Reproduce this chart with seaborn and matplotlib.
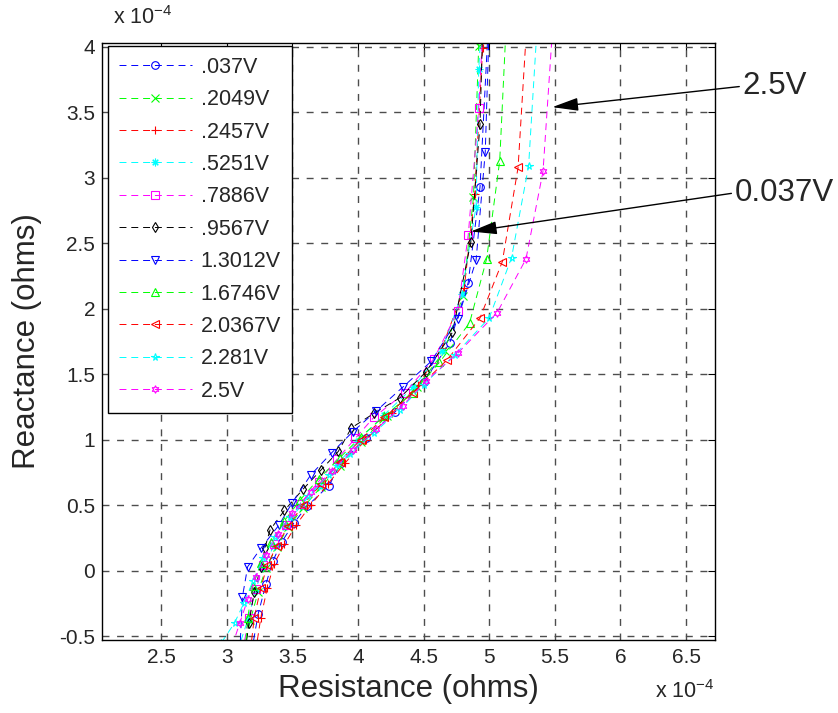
import matplotlib
matplotlib.use("Agg")
import matplotlib.pyplot as plt
import seaborn as sns
import pandas as pd

# impedance locus per bias voltage, both axes in units of 1e-4 ohm
labels = [".037V", ".2049V", ".2457V", ".5251V", ".7886V", ".9567V",
          "1.3012V", "1.6746V", "2.0367V", "2.281V", "2.5V"]

res_037 = [3.19, 3.24, 3.30, 3.35, 3.42, 3.51, 3.61, 3.78, 3.87, 4.06, 4.28, 4.50, 4.70, 4.84, 4.93, 5.00]
rea_037 = [-0.62, -0.33, -0.10, 0.07, 0.22, 0.36, 0.49, 0.65, 0.82, 1.01, 1.21, 1.44, 1.74, 2.20, 2.93, 4.30]

res_2049 = [3.13, 3.18, 3.24, 3.30, 3.38, 3.47, 3.58, 3.72, 3.86, 4.02, 4.22, 4.45, 4.66, 4.80, 4.88, 4.92, 4.95]
rea_2049 = [-0.62, -0.38, -0.16, 0.02, 0.18, 0.33, 0.48, 0.64, 0.80, 0.98, 1.18, 1.40, 1.68, 2.10, 2.85, 4.01, 4.50]

res_2457 = [3.22, 3.26, 3.31, 3.36, 3.44, 3.53, 3.64, 3.77, 3.90, 4.06, 4.26, 4.46, 4.64, 4.81, 4.89, 4.95, 4.98]
rea_2457 = [-0.62, -0.36, -0.13, 0.05, 0.20, 0.35, 0.50, 0.66, 0.82, 1.00, 1.20, 1.42, 1.70, 2.16, 2.88, 3.99, 4.50]

res_5251 = [3.08, 3.16, 3.22, 3.28, 3.36, 3.45, 3.56, 3.70, 3.84, 4.00, 4.20, 4.42, 4.64, 4.79, 4.90, 4.92, 4.96]
rea_5251 = [-0.62, -0.38, -0.15, 0.03, 0.19, 0.34, 0.49, 0.65, 0.81, 0.99, 1.19, 1.40, 1.68, 2.11, 2.78, 3.83, 4.50]

res_7886 = [3.12, 3.17, 3.22, 3.28, 3.36, 3.45, 3.56, 3.70, 3.84, 3.98, 4.12, 4.36, 4.58, 4.76, 4.84, 4.92, 4.97]
rea_7886 = [-0.62, -0.36, -0.14, 0.04, 0.20, 0.35, 0.51, 0.68, 0.85, 1.01, 1.17, 1.36, 1.62, 1.98, 2.56, 3.53, 4.50]

res_9567 = [3.14, 3.17, 3.21, 3.26, 3.29, 3.33, 3.44, 3.58, 3.72, 3.85, 3.95, 4.12, 4.32, 4.52, 4.72, 4.86, 4.93, 4.96]
rea_9567 = [-0.62, -0.40, -0.16, 0.03, 0.17, 0.31, 0.46, 0.62, 0.77, 0.91, 1.09, 1.20, 1.32, 1.52, 1.82, 2.51, 3.41, 4.50]

res_13012 = [3.10, 3.12, 3.16, 3.26, 3.40, 3.50, 3.64, 3.80, 3.96, 4.14, 4.34, 4.56, 4.76, 4.90, 4.97, 5.01]
rea_13012 = [-0.62, -0.20, 0.03, 0.17, 0.35, 0.52, 0.73, 0.90, 1.06, 1.22, 1.40, 1.60, 1.92, 2.37, 3.20, 4.50]

res_16746 = [3.14, 3.16, 3.20, 3.26, 3.34, 3.44, 3.56, 3.70, 3.86, 4.02, 4.20, 4.42, 4.62, 4.85, 4.98, 5.08, 5.14]
rea_16746 = [-0.62, -0.36, -0.12, 0.06, 0.22, 0.38, 0.54, 0.70, 0.86, 1.02, 1.18, 1.36, 1.59, 1.89, 2.38, 3.13, 4.40]

res_20367 = [3.18, 3.21, 3.26, 3.31, 3.38, 3.47, 3.58, 3.72, 3.86, 4.02, 4.20, 4.42, 4.68, 4.93, 5.10, 5.22, 5.30]
rea_20367 = [-0.62, -0.36, -0.13, 0.04, 0.19, 0.34, 0.50, 0.66, 0.83, 1.00, 1.17, 1.36, 1.61, 1.93, 2.36, 3.08, 4.40]

res_2281 = [2.96, 3.06, 3.13, 3.20, 3.28, 3.37, 3.48, 3.62, 3.78, 3.94, 4.12, 4.32, 4.50, 4.74, 5.00, 5.17, 5.30, 5.38]
rea_2281 = [-0.55, -0.40, -0.25, -0.08, 0.10, 0.26, 0.41, 0.57, 0.73, 0.89, 1.05, 1.23, 1.42, 1.65, 1.93, 2.39, 3.09, 4.40]

res_25 = [3.04, 3.10, 3.16, 3.22, 3.30, 3.39, 3.50, 3.64, 3.80, 3.96, 4.14, 4.34, 4.52, 4.76, 5.06, 5.28, 5.41, 5.50]
rea_25 = [-0.58, -0.40, -0.22, -0.05, 0.12, 0.28, 0.44, 0.60, 0.76, 0.92, 1.08, 1.26, 1.45, 1.66, 1.97, 2.38, 3.05, 4.40]

resistance = [res_037, res_2049, res_2457, res_5251, res_7886, res_9567,
              res_13012, res_16746, res_20367, res_2281, res_25]
reactance = [rea_037, rea_2049, rea_2457, rea_5251, rea_7886, rea_9567,
             rea_13012, rea_16746, rea_20367, rea_2281, rea_25]

colors = ["#0000ff", "#00ff00", "#ff0000", "#00ffff", "#ff00ff", "#000000",
          "#0000ff", "#00ff00", "#ff0000", "#00ffff", "#ff00ff"]
markers = ["o", "x", "+", (8, 2, 0), "s", "d", "v", "^", "<", "*", (6, 1, 0)]

sns.set_style("white")
plt.rcParams["font.family"] = ["Liberation Sans", "DejaVu Sans"]
plt.rcParams["mathtext.fontset"] = "custom"
plt.rcParams["mathtext.rm"] = "Liberation Sans"
plt.rcParams["mathtext.default"] = "regular"
plt.rcParams["lines.scale_dashes"] = False

fig = plt.figure(figsize=(8.38, 7.13), dpi=100)
ax = fig.add_axes([0.1217, 0.1024, 0.7315, 0.8373])

for lab, r, x, c, m in zip(labels, resistance, reactance, colors, markers):
    df = pd.DataFrame({"R": r, "X": x})
    sns.lineplot(data=df, x="R", y="X", ax=ax, sort=False, estimator=None,
                 color=c, marker=m, markersize=5.5, markerfacecolor="none",
                 markeredgecolor=c, markeredgewidth=0.8, linewidth=0.7,
                 dashes=False, linestyle=(0, (5, 3.5)), label=lab, legend=False)

ax.set_xlim(2.05, 6.72)
ax.set_ylim(-0.53, 4.03)
ax.set_xticks([2.5, 3, 3.5, 4, 4.5, 5, 5.5, 6, 6.5])
ax.set_xticklabels(["2.5", "3", "3.5", "4", "4.5", "5", "5.5", "6", "6.5"])
ax.set_yticks([-0.5, 0, 0.5, 1, 1.5, 2, 2.5, 3, 3.5, 4])
ax.set_yticklabels(["-0.5", "0", "0.5", "1", "1.5", "2", "2.5", "3", "3.5", "4"])
ax.grid(True, color="0.3", linestyle=(0, (5, 5.5)), linewidth=1.0)
ax.tick_params(direction="in", top=True, right=True, length=5, width=0.8,
               labelsize=15, color="k")
ax.tick_params(axis="x", pad=6)
ax.tick_params(axis="y", pad=5)
for s in ax.spines.values():
    s.set_color("k")
    s.set_linewidth(1.0)

ax.set_xlabel("Resistance (ohms)", fontsize=22.5, labelpad=5)
ax.set_ylabel("Reactance (ohms)", fontsize=22.5, labelpad=12)

leg = ax.legend(loc="upper left", bbox_to_anchor=(0.01, 0.995), borderaxespad=0,
                fontsize=15.5, handlelength=3.4, handletextpad=0.4,
                labelspacing=0.53, borderpad=0.5, numpoints=1,
                fancybox=False, framealpha=1, edgecolor="k")
leg.get_frame().set_linewidth(1.0)

ax.annotate("2.5V", xy=(5.48, 3.54), xytext=(6.93, 3.70), fontsize=22.5,
            ha="left", va="center", annotation_clip=False,
            arrowprops=dict(arrowstyle="-|>,head_length=0.8,head_width=0.2",
                            color="k", lw=1, mutation_scale=20,
                            shrinkA=0, shrinkB=0, relpos=(0, 0.5)))
ax.annotate("0.037V", xy=(4.86, 2.59), xytext=(6.87, 2.885), fontsize=22.5,
            ha="left", va="center", annotation_clip=False,
            arrowprops=dict(arrowstyle="-|>,head_length=0.8,head_width=0.2",
                            color="k", lw=1, mutation_scale=20,
                            shrinkA=0, shrinkB=0, relpos=(0, 0.5)))

fig.text(0.135, 0.975, r"x 10$^{-4}$", fontsize=15.5, ha="left", va="center")
fig.text(0.853, 0.03, r"x 10$^{-4}$", fontsize=15.5, ha="right", va="center")

fig.savefig("out.png", dpi=100)
